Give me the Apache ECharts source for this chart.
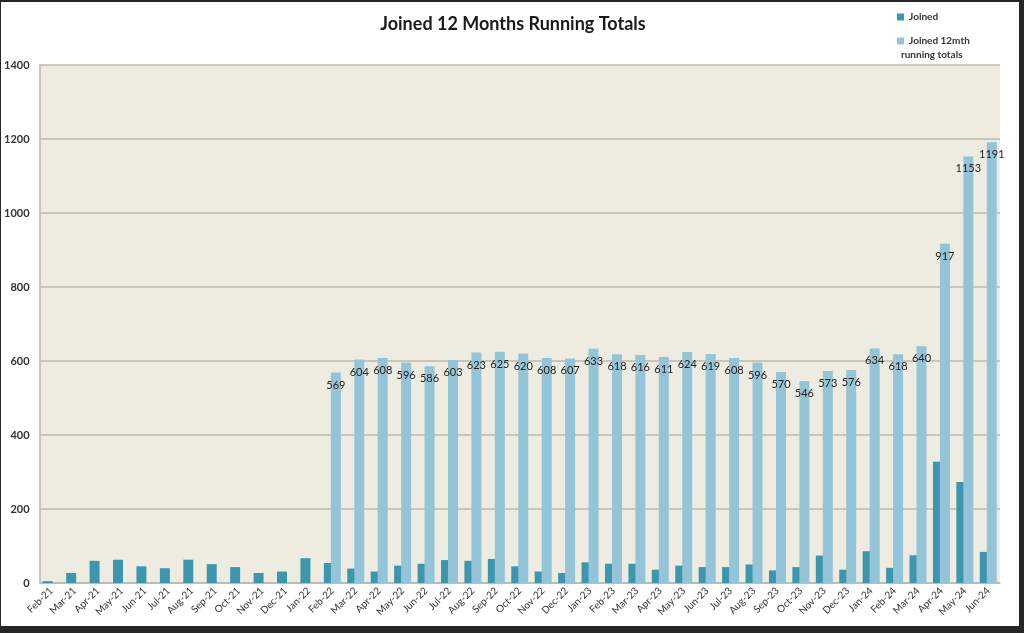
<!DOCTYPE html>
<html>
<head>
<meta charset="utf-8">
<script src="https://cdn.jsdelivr.net/npm/echarts@6/dist/echarts.min.js"></script>
<style>
html,body{margin:0;padding:0;background:#262626;width:1024px;height:633px;overflow:hidden;}
#c{position:absolute;left:1px;top:2px;width:1018px;height:624px;background:#fff;}
</style>
</head>
<body>
<div id="c"></div>
<script>
const categories = ['Feb-21','Mar-21','Apr-21','May-21','Jun-21','Jul-21','Aug-21','Sep-21','Oct-21','Nov-21','Dec-21','Jan-22',
  'Feb-22','Mar-22','Apr-22','May-22','Jun-22','Jul-22','Aug-22','Sep-22','Oct-22','Nov-22','Dec-22','Jan-23',
  'Feb-23','Mar-23','Apr-23','May-23','Jun-23','Jul-23','Aug-23','Sep-23','Oct-23','Nov-23','Dec-23','Jan-24',
  'Feb-24','Mar-24','Apr-24','May-24','Jun-24'];
const joined = [5,27,60,63,45,40,63,51,43,27,31,67,
  54,39,31,47,52,62,60,65,45,31,27,56,
  52,52,36,47,43,43,50,34,43,74,36,86,
  41,75,328,273,84];
const runningTotals = [null,null,null,null,null,null,null,null,null,null,null,null,
  569,604,608,596,586,603,623,625,620,608,607,633,
  618,616,611,624,619,608,596,570,546,573,576,634,
  618,640,917,1153,1191];
const yTicks = [0,200,400,600,800,1000,1200,1400];

const FONT = 'Lato, "Open Sans", sans-serif';
const chart = echarts.init(document.getElementById('c'));
chart.setOption({
  animation: false,
  backgroundColor: '#ffffff',
  textStyle: {fontFamily: FONT},
  title: {
    text: 'Joined 12 Months Running Totals',
    left: 507, top: 8, textAlign: 'center',
    textStyle: {fontFamily: FONT, fontSize: 18, fontWeight: 'bold', color: '#1a1a1a'}
  },
  legend: {
    orient: 'vertical', left: 891, top: 5, itemGap: 14,
    itemWidth: 7, itemHeight: 7, icon: 'rect',
    textStyle: {fontFamily: FONT, fontSize: 10, fontWeight: 'bold', color: '#333'},
    formatter: n => n === 'Joined 12mth running totals' ? 'Joined 12mth' : n,
    data: ['Joined', 'Joined 12mth running totals']
  },
  graphic: [{
    type: 'text', left: 900, top: 48,
    style: {text: 'running totals', fontFamily: FONT, fontSize: 10, fontWeight: 'bold', fill: '#333'}
  }],
  grid: {
    left: 35, right: 19, top: 63, bottom: 43,
    show: true, backgroundColor: '#eeece1', borderWidth: 0
  },
  xAxis: {
    type: 'category', data: categories,
    axisLine: {lineStyle: {color: '#bcb8aa', width: 1.5}},
    axisTick: {show: false},
    axisLabel: {rotate: 45, interval: 0, fontSize: 10, color: '#333', fontFamily: FONT, margin: 6}
  },
  yAxis: {
    type: 'value', min: yTicks[0], max: yTicks[yTicks.length-1], interval: 200,
    axisLine: {show: true, lineStyle: {color: '#bcb8aa', width: 1.5}},
    axisTick: {show: false},
    splitLine: {lineStyle: {color: '#bcb8aa', width: 1.5}},
    axisLabel: {fontSize: 11, fontWeight: 'bold', color: '#333', fontFamily: FONT, margin: 10,
      formatter: v => String(v)}
  },
  series: [
    {
      name: 'Joined', type: 'bar', data: joined,
      barWidth: 10, barGap: '-30%',
      itemStyle: {color: '#3c97ae'}
    },
    {
      name: 'Joined 12mth running totals', type: 'bar', data: runningTotals,
      barWidth: 10,
      itemStyle: {color: '#93c4d8'},
      label: {
        show: true, position: 'insideTop', distance: 7,
        fontSize: 11, color: '#222', fontFamily: FONT
      }
    }
  ]
});
</script>
</body>
</html>
